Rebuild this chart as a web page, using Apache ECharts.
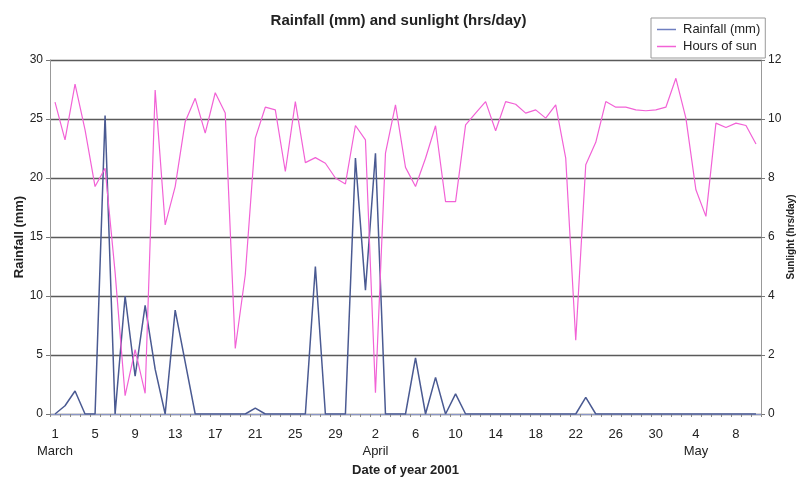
<!DOCTYPE html>
<html>
<head>
<meta charset="utf-8">
<script src="https://cdn.jsdelivr.net/npm/echarts@6/dist/echarts.min.js"></script>
<style>html,body{margin:0;padding:0;background:#fff;}#chart{width:797px;height:485px;}</style>
</head>
<body>
<div id="chart"></div>
<script>
const categories = [
 'Mar 1','Mar 2','Mar 3','Mar 4','Mar 5','Mar 6','Mar 7','Mar 8','Mar 9','Mar 10',
 'Mar 11','Mar 12','Mar 13','Mar 14','Mar 15','Mar 16','Mar 17','Mar 18','Mar 19','Mar 20',
 'Mar 21','Mar 22','Mar 23','Mar 24','Mar 25','Mar 26','Mar 27','Mar 28','Mar 29','Mar 30','Mar 31',
 'Apr 1','Apr 2','Apr 3','Apr 4','Apr 5','Apr 6','Apr 7','Apr 8','Apr 9','Apr 10',
 'Apr 11','Apr 12','Apr 13','Apr 14','Apr 15','Apr 16','Apr 17','Apr 18','Apr 19','Apr 20',
 'Apr 21','Apr 22','Apr 23','Apr 24','Apr 25','Apr 26','Apr 27','Apr 28','Apr 29','Apr 30',
 'May 1','May 2','May 3','May 4','May 5','May 6','May 7','May 8','May 9','May 10'
];
const monthLabels = {'Mar 1':'March','Apr 2':'April','May 4':'May'};

const rainfall = [
 0,0.7,1.95,0,0,25.3,0,10,3.2,9.2,3.8,0,8.8,4.4,0,
 0,0,0,0,0,0.5,0,0,0,0,0,12.5,0,0,0,
 21.7,10.5,22.1,0,0,0,4.75,0,3.1,0,1.7,0,
 0,0,0,0,0,0,0,0,0,0,0,1.4,0,0,0,0,0,
 0,0,0,0,0,0,0,0,0,0,0,0
];
const sunHours = [
 10.57,9.29,11.18,9.63,7.71,8.33,4.8,0.62,2.18,0.7,
 10.98,6.41,7.71,9.91,10.70,9.52,10.89,10.20,2.22,4.72,
 9.35,10.40,10.31,8.22,10.59,8.52,8.69,8.50,8.00,7.80,
 9.78,9.29,0.72,8.84,10.48,8.36,7.71,8.67,9.77,7.20,
 7.20,9.80,10.20,10.59,9.60,10.59,10.50,10.20,10.31,10.03,
 10.48,8.67,2.50,8.45,9.21,10.59,10.40,10.40,10.31,10.28,
 10.31,10.40,11.38,10.03,7.60,6.70,9.86,9.71,9.86,9.78,9.15
];

const FONT = '"Liberation Sans", Arial, sans-serif';
const chart = echarts.init(document.getElementById('chart'), null, {renderer: 'canvas'});
chart.setOption({
  backgroundColor: '#ffffff',
  animation: false,
  textStyle: {fontFamily: FONT},
  title: {
    text: 'Rainfall (mm) and sunlight (hrs/day)',
    left: 'center', top: 8,
    textStyle: {fontFamily: FONT, fontSize: 15, fontWeight: 'bold', color: '#222'}
  },
  legend: {
    orient: 'vertical',
    left: 651, top: 18,
    padding: [5, 5, 5, 6],
    itemGap: 4,
    icon: 'rect',
    itemWidth: 19, itemHeight: 1.5,
    borderColor: '#999', borderWidth: 1,
    backgroundColor: '#fff',
    textStyle: {fontFamily: FONT, fontSize: 13, color: '#222', padding: [0, 0, 0, 2]},
    data: ['Rainfall (mm)', 'Hours of sun']
  },
  grid: {left: 50, right: 36, top: 60, bottom: 71, containLabel: false, outerBoundsMode: 'none'},
  xAxis: {
    type: 'category',
    data: categories,
    boundaryGap: true,
    name: 'Date of year 2001',
    nameLocation: 'middle',
    nameGap: 50,
    nameMoveOverlap: false,
    nameTextStyle: {fontFamily: FONT, fontSize: 13, fontWeight: 'bold', color: '#222'},
    axisLine: {lineStyle: {color: '#8a96c8', width: 1}},
    axisTick: {show: true, interval: 0, length: 3, lineStyle: {color: '#888'}},
    axisLabel: {
      interval: 3, margin: 12, fontSize: 13, color: '#222', lineHeight: 17,
      formatter: function (v) {
        const d = v.split(' ')[1];
        return monthLabels[v] ? d + '\n' + monthLabels[v] : d;
      }
    },
    splitLine: {show: false}
  },
  yAxis: [
    {
      type: 'value', min: 0, max: 30, interval: 5,
      name: 'Rainfall (mm)', nameLocation: 'middle', nameGap: 24, nameRotate: 90,
      nameMoveOverlap: false,
      nameTextStyle: {fontFamily: FONT, fontSize: 13, fontWeight: 'bold', color: '#222'},
      axisLine: {show: true, lineStyle: {color: '#999', width: 1}},
      axisTick: {show: true, length: 4, lineStyle: {color: '#777'}},
      axisLabel: {fontSize: 12, color: '#222', margin: 7},
      splitLine: {show: true, lineStyle: {color: '#5a5a5a', width: 1.3}}
    },
    {
      type: 'value', min: 0, max: 12, interval: 2,
      name: 'Sunlight (hrs/day)', nameLocation: 'middle', nameGap: 25, nameRotate: 90,
      nameMoveOverlap: false,
      nameTextStyle: {fontFamily: FONT, fontSize: 10, fontWeight: 'bold', color: '#222'},
      axisLine: {show: true, lineStyle: {color: '#999', width: 1}},
      axisTick: {show: true, length: 4, lineStyle: {color: '#777'}},
      axisLabel: {fontSize: 12, color: '#222', margin: 7},
      splitLine: {show: false}
    }
  ],
  series: [
    {
      name: 'Rainfall (mm)', type: 'line', yAxisIndex: 0,
      data: rainfall, symbol: 'none',
      lineStyle: {color: '#4a5a92', width: 1.5},
      itemStyle: {color: '#6f7fc0'}, z: 2
    },
    {
      name: 'Hours of sun', type: 'line', yAxisIndex: 1,
      data: sunHours, symbol: 'none',
      lineStyle: {color: '#f262d6', width: 1.2},
      itemStyle: {color: '#f262d6'}, z: 3
    }
  ]
});
</script>
</body>
</html>
